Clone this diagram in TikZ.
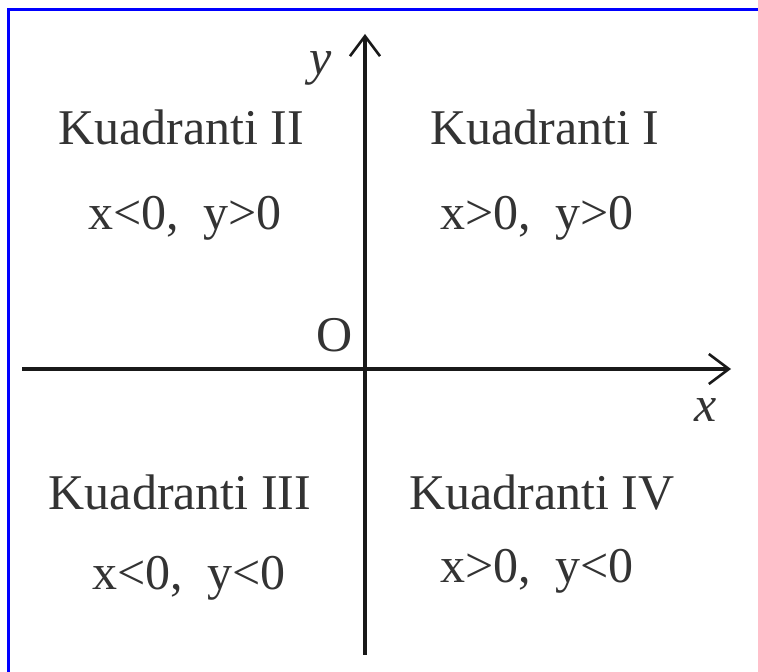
\documentclass[tikz,border=0pt]{standalone}
\usepackage{fontspec}
\setmainfont{Liberation Serif}
\usetikzlibrary{arrows.meta}
\begin{document}
\begin{tikzpicture}[x=1pt,y=1pt,
  lbl/.style={inner sep=0pt,anchor=base,font=\fontsize{50}{55}\selectfont,text=black!80},
  axis/.style={line width=4pt,black!90,-{Straight Barb[length=20pt,width=30pt,line width=2.6pt]}}]
\useasboundingbox (0,0) rectangle (758,672);
\fill[white] (0,0) rectangle (758,672);
\draw[blue,line width=2.6pt] (8.5,0) -- (8.5,662.5) -- (758,662.5);
% axes
\coordinate (xl) at (22,303);
\coordinate (xr) at (731,303);
\coordinate (yb) at (365,17);
\coordinate (yt) at (365,638);
\draw[axis] (xl) -- (xr);
\draw[axis] (yb) -- (yt);
% labels
\node[lbl] (q2) at (181,527) {Kuadranti II};
\node[lbl] (c2) at (185,442) {x<0,\ \ y>0};
\node[lbl] (q1) at (545,527) {Kuadranti I};
\node[lbl] (c1) at (537,442) {x>0,\ \ y>0};
\node[lbl] (q3) at (180,162) {Kuadranti III};
\node[lbl] (c3) at (189,82) {x<0,\ \ y<0};
\node[lbl] (q4) at (542,162) {Kuadranti IV};
\node[lbl] (c4) at (537,89) {x>0,\ \ y<0};
\node[lbl] (o) at (335,320) {O};
\node[lbl,font=\fontsize{50}{55}\selectfont\itshape] (ylab) at (321,597) {y};
\node[lbl,font=\fontsize{50}{55}\selectfont\itshape] (xlab) at (706,250) {x};
\end{tikzpicture}
\end{document}
